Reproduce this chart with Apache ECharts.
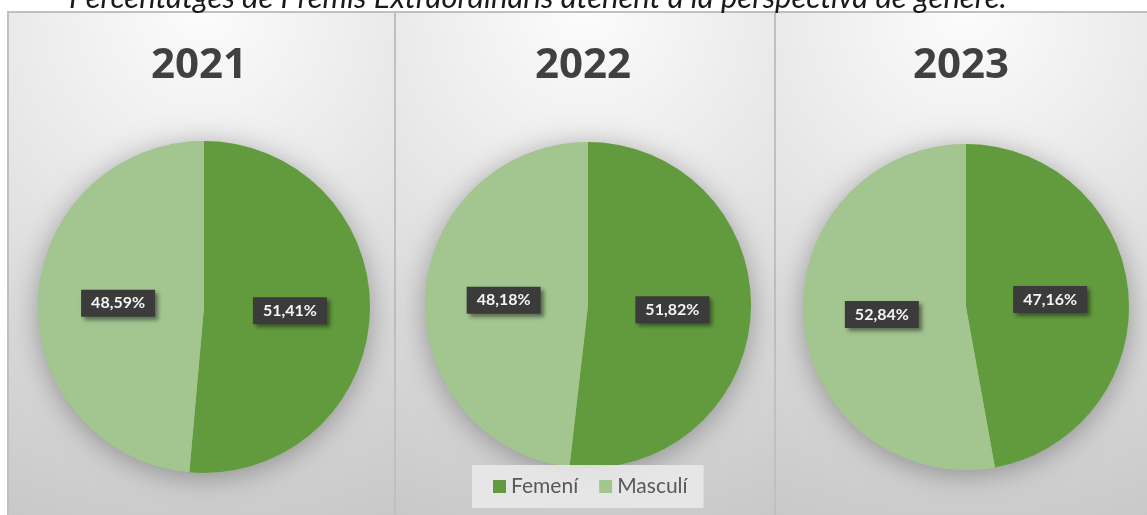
<!DOCTYPE html>
<html>
<head>
<meta charset="utf-8">
<script src="https://cdn.jsdelivr.net/npm/echarts@6/dist/echarts.min.js"></script>
<style>
  html, body { margin: 0; padding: 0; background: #ffffff; }
  #chart { width: 1147px; height: 515px; }
</style>
</head>
<body>
<div id="chart"></div>
<script>
// Share of extraordinary awards by gender, per year
const years = ['2021', '2022', '2023'];
const seriesNames = ['Femení', 'Masculí'];
const femeni = [51.41, 51.82, 47.16];
const masculi = [48.59, 48.18, 52.84];
const headline = 'Percentatges de Premis Extraordinaris atenent a la perspectiva de gènere.';

// Styling and layout
const sliceColors = ['#629b3d', '#a3c590'];
const panelEdges = [[8, 395], [395, 775], [775, 1155]];
const pieCenters = [[204, 307], [588, 305], [966, 307]];
const pieRadii = [166, 163, 163];
const FONT = 'Lato, "Open Sans", sans-serif';
const TITLE_FONT = '"Open Sans", Lato, sans-serif';

const fmtPct = v => v.toFixed(2).replace('.', ',') + '%';

const chart = echarts.init(document.getElementById('chart'), null, { renderer: 'canvas' });

// Panel backgrounds: soft radial light from the top centre of each panel
const PANEL_TOP = 12, PANEL_H = 520;
const panelGraphics = panelEdges.map(([x0, x1]) => {
  const w = x1 - x0;
  return {
    type: 'rect',
    z: -10,
    silent: true,
    shape: { x: x0, y: PANEL_TOP, width: w, height: PANEL_H },
    style: {
      fill: new echarts.graphic.RadialGradient(0.5, 0, 560 / Math.min(w, PANEL_H), [
        { offset: 0, color: '#fcfcfc' },
        { offset: 1, color: '#c6c6c6' }
      ]),
      stroke: '#c0c0c0',
      lineWidth: 2
    }
  };
});

const series = [];
years.forEach((yr, i) => {
  // soft halo under each pie
  series.push({
    type: 'pie',
    name: 'halo-' + yr,
    silent: true,
    z: 1,
    center: pieCenters[i],
    radius: pieRadii[i],
    startAngle: 90,
    label: { show: false },
    labelLine: { show: false },
    itemStyle: {
      color: sliceColors[1],
      shadowBlur: 28,
      shadowOffsetY: 4,
      shadowColor: 'rgba(0,0,0,0.32)'
    },
    data: [{ name: 'halo', value: femeni[i] + masculi[i] }]
  });
  series.push({
    type: 'pie',
    name: yr,
    z: 3,
    center: pieCenters[i],
    radius: pieRadii[i],
    startAngle: 90,
    clockwise: true,
    emphasis: { disabled: true },
    labelLine: { show: false },
    label: {
      show: true,
      position: 'inside',
      formatter: p => fmtPct(p.value),
      color: '#f4f4f4',
      fontFamily: FONT,
      fontWeight: 'bold',
      fontSize: 16,
      backgroundColor: '#3b3b3b',
      padding: [6, 10, 5, 10],
      shadowBlur: 4,
      shadowOffsetX: 3,
      shadowOffsetY: 3,
      shadowColor: 'rgba(0,0,0,0.45)'
    },
    data: [
      { name: seriesNames[0], value: femeni[i], itemStyle: { color: sliceColors[0] } },
      { name: seriesNames[1], value: masculi[i], itemStyle: { color: sliceColors[1] } }
    ]
  });
});

const option = {
  animation: false,
  backgroundColor: '#ffffff',
  color: sliceColors,
  title: years.map((yr, i) => ({
    text: yr,
    left: pieCenters[i][0] - 5,
    top: 45,
    padding: 0,
    textAlign: 'center',
    textStyle: { fontFamily: TITLE_FONT, fontWeight: 'bold', fontSize: 42, color: '#404040' }
  })),
  legend: {
    data: seriesNames,
    left: 472,
    top: 465,
    padding: [11, 16, 11, 21],
    backgroundColor: 'rgba(233,233,233,0.88)',
    icon: 'rect',
    itemWidth: 13,
    itemHeight: 13,
    itemGap: 21,
    textStyle: { fontFamily: FONT, fontSize: 21, color: '#595959' }
  },
  graphic: panelGraphics.concat([{
    type: 'text',
    z: 100,
    silent: true,
    x: 69,
    y: -2,
    style: {
      text: headline,
      font: 'italic 31px ' + FONT,
      fill: '#1a1a1a',
      verticalAlign: 'middle',
      align: 'left'
    }
  }]),
  series: series
};

chart.setOption(option);
</script>
</body>
</html>
